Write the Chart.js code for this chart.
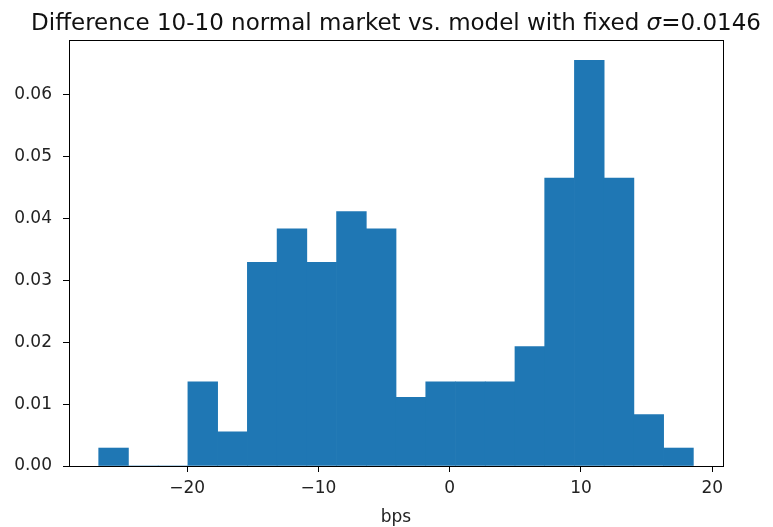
<!DOCTYPE html>
<html>
<head>
<meta charset="utf-8">
<script src="https://cdn.jsdelivr.net/npm/chart.js@4.4.1/dist/chart.umd.min.js"></script>
<style>
  html, body { margin: 0; padding: 0; background: #fff; }
  #wrap { width: 773px; height: 527px; }
</style>
</head>
<body>
<div id="wrap"><canvas id="hist"></canvas></div>
<script>
// histogram bin edges (bps) and densities
const binEdges = [-26.74, -24.47, -22.21, -19.94, -17.68, -15.41, -13.15, -10.88, -8.62, -6.35,
                  -4.09, -1.82, 0.44, 2.71, 4.97, 7.24, 9.50, 11.77, 14.03, 16.30, 18.56];
const density = [0.0029, 0, 0, 0.0136, 0.0055, 0.0329, 0.0383, 0.0329, 0.0411, 0.0383,
                 0.0111, 0.0136, 0.0136, 0.0136, 0.0193, 0.0465, 0.0655, 0.0465, 0.0083, 0.0029];
const xTicks = [-20, -10, 0, 10, 20];
const yTicks = [0, 0.01, 0.02, 0.03, 0.04, 0.05, 0.06];
const titleParts = [
  { text: 'Difference 10-10 normal market vs. model with fixed ', italic: false },
  { text: 'σ', italic: true },
  { text: '=0.0146', italic: false }
];

const points = density.map((d, i) => ({ x: (binEdges[i] + binEdges[i + 1]) / 2, y: d }));

const FONT = 'DejaVu Sans';

// full box around the plot like matplotlib spines
const frame = {
  id: 'frame',
  afterDraw(chart) {
    const { ctx, chartArea: a } = chart;
    ctx.save();
    ctx.strokeStyle = '#000';
    ctx.lineWidth = 1;
    ctx.strokeRect(a.left + 0.5, a.top + 0.5, a.right - a.left, a.bottom - a.top);
    ctx.restore();
  }
};

// title with an italic sigma, centred over the axes
const mixedTitle = {
  id: 'mixedTitle',
  afterDraw(chart) {
    const { ctx, chartArea: a } = chart;
    const size = 23;
    const fontOf = p => (p.italic ? 'italic ' : '') + size + 'px "' + FONT + '"';
    ctx.save();
    ctx.fillStyle = '#111';
    ctx.textBaseline = 'alphabetic';
    let total = 0;
    titleParts.forEach(p => { ctx.font = fontOf(p); total += ctx.measureText(p.text).width; });
    let x = (a.left + a.right) / 2 - total / 2;
    titleParts.forEach(p => {
      ctx.font = fontOf(p);
      ctx.fillText(p.text, x, 29.5);
      x += ctx.measureText(p.text).width;
    });
    ctx.restore();
  }
};

new Chart(document.getElementById('hist'), {
  type: 'bar',
  data: {
    datasets: [{
      data: points,
      backgroundColor: '#1f77b4',
      borderWidth: 0,
      barPercentage: 1.0,
      categoryPercentage: 1.0
    }]
  },
  options: {
    responsive: true,
    maintainAspectRatio: false,
    animation: false,
    layout: { padding: { left: 0, right: 50, top: 40, bottom: 0 } },
    plugins: {
      legend: { display: false },
      tooltip: { enabled: false },
      title: { display: false }
    },
    scales: {
      x: {
        type: 'linear',
        offset: false,
        min: -29.0,
        max: 20.82,
        afterBuildTicks: s => { s.ticks = xTicks.map(v => ({ value: v })); },
        afterFit: s => { s.height = 61; },
        grid: { offset: false, drawOnChartArea: false, drawTicks: true, tickLength: 6, color: '#000' },
        border: { color: '#000' },
        ticks: {
          color: '#222',
          padding: 6,
          maxRotation: 0,
          font: { family: FONT, size: 17 },
          callback: v => String(v).replace('-', '\u2212')
        },
        title: {
          display: true,
          text: 'bps',
          color: '#222',
          font: { family: FONT, size: 17 },
          padding: { top: 0, bottom: -1 }
        }
      },
      y: {
        min: 0,
        max: 0.0688,
        afterBuildTicks: s => { s.ticks = yTicks.map(v => ({ value: v })); },
        afterFit: s => { s.width = 69; },
        grid: { drawOnChartArea: false, drawTicks: true, tickLength: 6, color: '#000' },
        border: { color: '#000' },
        ticks: {
          color: '#222',
          padding: 11,
          font: { family: FONT, size: 17 },
          callback: v => v.toFixed(2)
        }
      }
    }
  },
  plugins: [frame, mixedTitle]
});
</script>
</body>
</html>
